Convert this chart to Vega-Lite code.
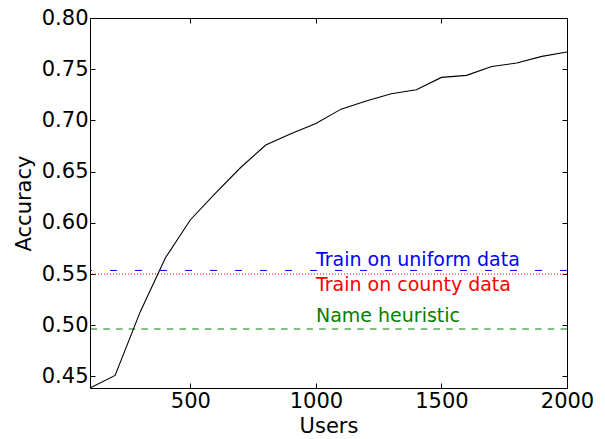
{
  "$schema": "https://vega.github.io/schema/vega-lite/v6.json",
  "width": 477,
  "height": 370,
  "autosize": "none",
  "padding": {"left": 90, "top": 18, "right": 38, "bottom": 51},
  "background": "white",
  "config": {
    "view": {"stroke": "black", "strokeWidth": 1},
    "font": "DejaVu Sans",
    "axis": {
      "domain": false,
      "grid": false,
      "tickSize": -5,
      "tickColor": "black",
      "tickWidth": 1,
      "labelFont": "DejaVu Sans",
      "labelFontSize": 21,
      "labelColor": "black",
      "labelPadding": 7,
      "labelFlush": false,
      "labelOverlap": false,
      "titleFont": "DejaVu Sans",
      "titleFontSize": 21,
      "titleFontWeight": "normal",
      "titleColor": "black"
    }
  },
  "datasets": {
    "acc": [
      {"users": 100, "accuracy": 0.4387},
      {"users": 200, "accuracy": 0.451},
      {"users": 300, "accuracy": 0.513},
      {"users": 400, "accuracy": 0.5656},
      {"users": 500, "accuracy": 0.603},
      {"users": 600, "accuracy": 0.629},
      {"users": 700, "accuracy": 0.654},
      {"users": 800, "accuracy": 0.676},
      {"users": 900, "accuracy": 0.687},
      {"users": 1000, "accuracy": 0.697},
      {"users": 1100, "accuracy": 0.711},
      {"users": 1200, "accuracy": 0.719},
      {"users": 1300, "accuracy": 0.726},
      {"users": 1400, "accuracy": 0.730},
      {"users": 1500, "accuracy": 0.742},
      {"users": 1600, "accuracy": 0.744},
      {"users": 1700, "accuracy": 0.7527},
      {"users": 1800, "accuracy": 0.756},
      {"users": 1900, "accuracy": 0.7625},
      {"users": 2000, "accuracy": 0.7668}
    ],
    "base": [
      {"name": "Train on uniform data", "accuracy": 0.5535},
      {"name": "Train on county data", "accuracy": 0.5500},
      {"name": "Name heuristic", "accuracy": 0.4963}
    ],
    "labels": [
      {"name": "Train on uniform data", "users": 1000, "accuracy": 0.558},
      {"name": "Train on county data", "users": 1000, "accuracy": 0.533},
      {"name": "Name heuristic", "users": 1000, "accuracy": 0.503}
    ]
  },
  "layer": [
    {
      "data": {"name": "base"},
      "mark": {"type": "rule", "strokeWidth": 1},
      "encoding": {
        "y": {"field": "accuracy", "type": "quantitative", "scale": {"domain": [0.4387, 0.8], "nice": false, "zero": false}, "axis": null},
        "color": {"field": "name", "type": "nominal", "legend": null,
          "scale": {"domain": ["Train on uniform data", "Train on county data", "Name heuristic"], "range": ["#0000ff", "#ff0000", "#008000"]}},
        "strokeDash": {"field": "name", "type": "nominal", "legend": null,
          "scale": {"domain": ["Train on uniform data", "Train on county data", "Name heuristic"], "range": [[7, 18], [1, 2], [6.5, 6.2]]}}
      }
    },
    {
      "data": {"name": "acc"},
      "mark": {"type": "line", "color": "black", "strokeWidth": 1.1},
      "encoding": {
        "x": {"field": "users", "type": "quantitative", "scale": {"domain": [100, 2000], "nice": false, "zero": false},
          "axis": {"orient": "bottom", "title": "Users", "values": [500, 1000, 1500, 2000], "format": "d", "titlePadding": 4}},
        "y": {"field": "accuracy", "type": "quantitative",
          "axis": {"orient": "left", "title": "Accuracy", "values": [0.45, 0.5, 0.55, 0.6, 0.65, 0.7, 0.75, 0.8], "format": ".2f", "titlePadding": 7}}
      }
    },
    {
      "data": {"name": "labels"},
      "mark": {"type": "text", "align": "left", "baseline": "alphabetic", "fontSize": 19, "font": "DejaVu Sans"},
      "encoding": {
        "x": {"field": "users", "type": "quantitative",
          "axis": {"orient": "top", "labels": false, "title": null, "values": [500, 1000, 1500, 2000]}},
        "y": {"field": "accuracy", "type": "quantitative",
          "axis": {"orient": "right", "labels": false, "title": null, "values": [0.45, 0.5, 0.55, 0.6, 0.65, 0.7, 0.75, 0.8]}},
        "text": {"field": "name", "type": "nominal"},
        "color": {"field": "name", "type": "nominal", "legend": null}
      }
    }
  ],
  "resolve": {"axis": {"x": "independent", "y": "independent"}}
}
